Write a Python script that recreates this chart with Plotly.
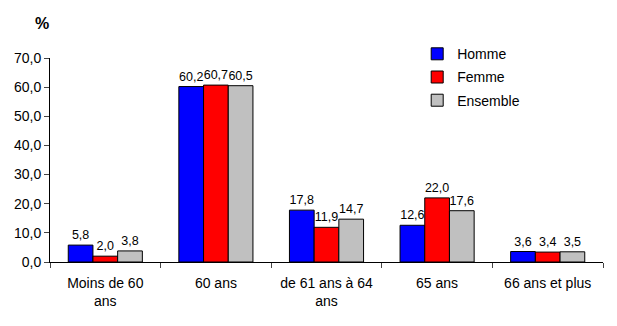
import plotly.graph_objects as go

categories = ["Moins de 60<br>ans", "60 ans", "de 61 ans à 64<br>ans", "65 ans", "66 ans et plus"]
homme = [5.8, 60.2, 17.8, 12.6, 3.6]
femme = [2.0, 60.7, 11.9, 22.0, 3.4]
ensemble = [3.8, 60.5, 14.7, 17.6, 3.5]
y_ticks = [0, 10, 20, 30, 40, 50, 60, 70]

font = "Liberation Sans, Arial, sans-serif"
fig = go.Figure()
for name, vals, col in [("Homme", homme, "#0000FF"), ("Femme", femme, "#FF0000"), ("Ensemble", ensemble, "#C0C0C0")]:
    fig.add_trace(go.Bar(
        x=categories, y=vals, name=name, legendgroup=name,
        marker=dict(color=col, line=dict(color="black", width=1)),
        texttemplate="%{y:.1f}", textposition="outside", cliponaxis=False,
        constraintext="none",
        textfont=dict(size=12.5, color="black", family=font),
    ))

fig.update_layout(
    width=617, height=326,
    margin=dict(l=50, r=14, t=58, b=64),
    paper_bgcolor="white", plot_bgcolor="white",
    separators=", ",
    barmode="group", bargap=0.33, bargroupgap=0,
    font=dict(family=font, size=14, color="black"),
    showlegend=True,
    legend=dict(x=0.664, y=1.097, xanchor="left", yanchor="top",
                font=dict(size=14), itemwidth=30, tracegroupgap=2,
                traceorder="grouped", bgcolor="rgba(0,0,0,0)"),
    annotations=[dict(text="<b>%</b>", x=-8/553, y=1+(58-24)/204, xref="paper", yref="paper",
                      xanchor="center", yanchor="middle", showarrow=False, font=dict(size=16))],
)
fig.update_xaxes(type="category", tickson="boundaries", ticks="outside", ticklen=5,
                 showline=True, linecolor="black", linewidth=1, showgrid=False,
                 ticklabelstandoff=8, tickfont=dict(size=14))
fig.update_yaxes(range=[0, 70], tickvals=y_ticks, tickformat=".1f", ticks="outside", ticklen=5,
                 showline=True, linecolor="black", linewidth=1, showgrid=False, zeroline=False,
                 tickfont=dict(size=14))
fig.write_html("out.html")
